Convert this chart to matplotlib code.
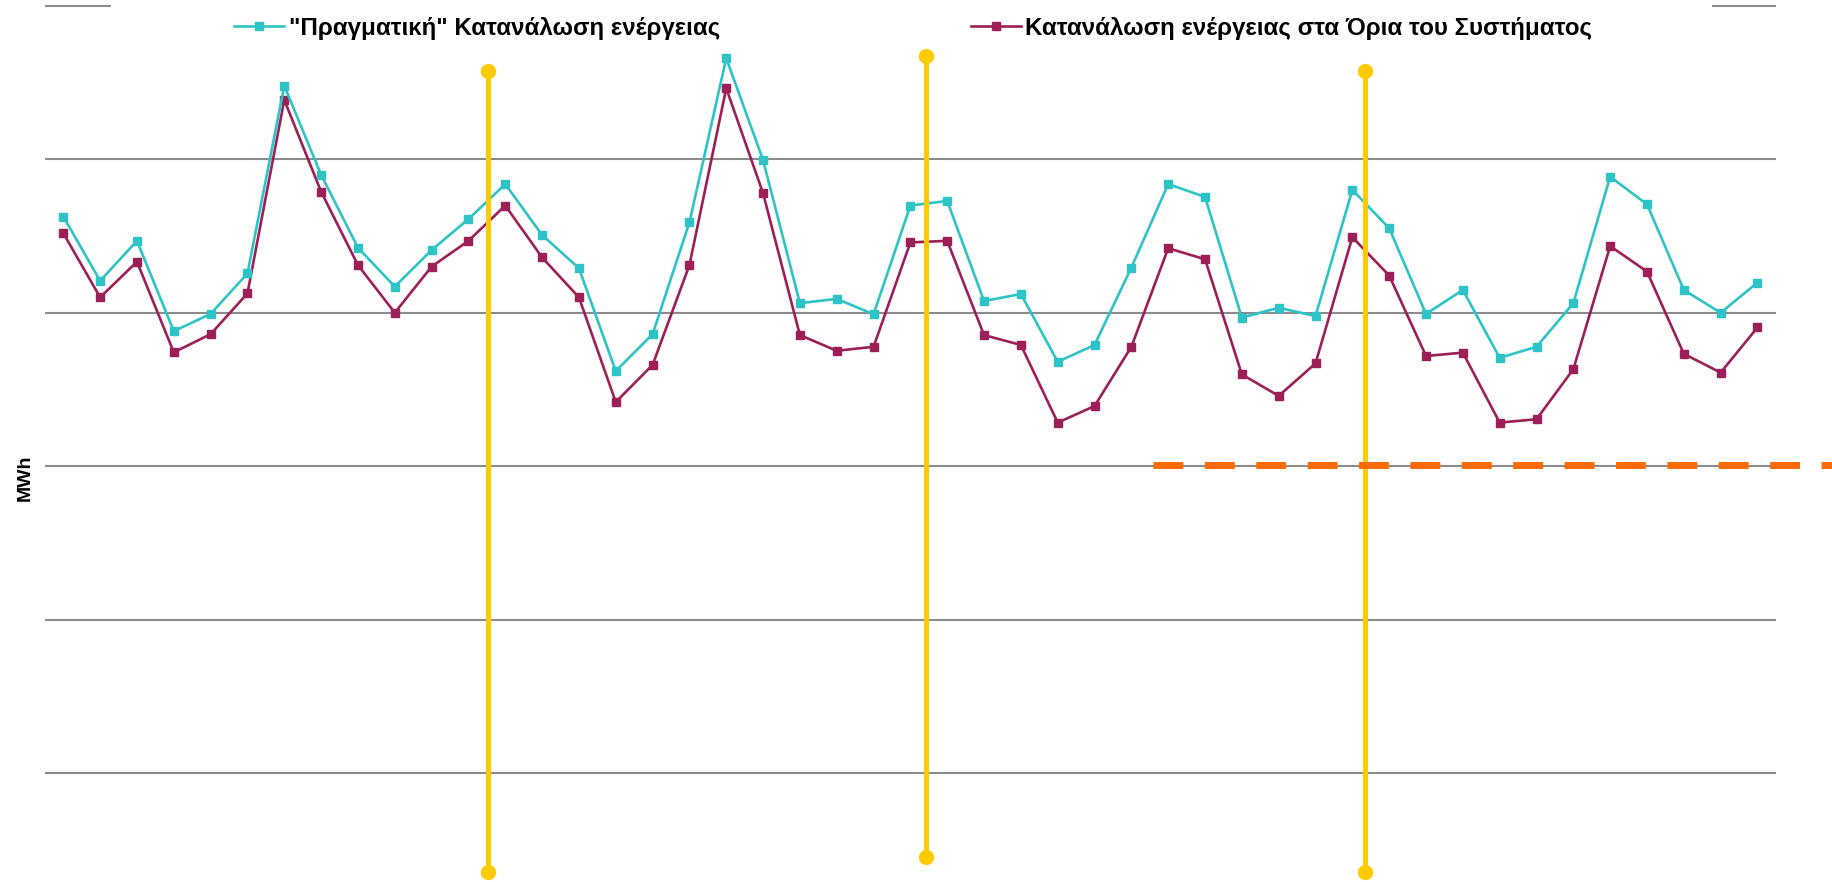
import numpy as np
import matplotlib
matplotlib.use("Agg")
from matplotlib import pyplot as plt
from matplotlib.patches import Rectangle

plt.rcParams['font.family'] = ['Liberation Sans', 'DejaVu Sans']

# monthly energy consumption, million MWh
months = np.arange(47)
real_consumption = [4.813, 4.604, 4.734, 4.440, 4.496, 4.628, 5.239, 4.949, 4.712, 4.585,
                    4.704, 4.805, 4.919, 4.753, 4.645, 4.310, 4.430, 4.794, 5.329, 4.997,
                    4.531, 4.545, 4.495, 4.849, 4.864, 4.538, 4.561, 4.340, 4.395, 4.647,
                    4.919, 4.877, 4.484, 4.516, 4.489, 4.900, 4.775, 4.496, 4.574, 4.353,
                    4.389, 4.531, 4.943, 4.853, 4.574, 4.500, 4.598]
system_consumption = [4.759, 4.550, 4.666, 4.371, 4.430, 4.563, 5.193, 4.894, 4.655, 4.500,
                      4.650, 4.734, 4.849, 4.680, 4.550, 4.209, 4.330, 4.655, 5.231, 4.889,
                      4.427, 4.376, 4.389, 4.729, 4.734, 4.427, 4.395, 4.142, 4.196, 4.389,
                      4.710, 4.674, 4.299, 4.229, 4.335, 4.746, 4.621, 4.359, 4.370, 4.142,
                      4.153, 4.316, 4.717, 4.634, 4.366, 4.305, 4.452]

labels = ['"Πραγματική" Κατανάλωση ενέργειας',
          'Κατανάλωση ενέργειας στα Όρια του Συστήματος']

# year separators and threshold
sep_x = [11.52, 23.43, 35.34]
sep_top = [5.288, 5.337, 5.288]
sep_bottom = [2.679, 2.727, 2.678]
threshold = 4.005
threshold_start = 29.58

cyan = '#2EC4C7'
wine = '#9C1F58'
gold = '#FFCA00'
orange = '#FF6A00'

fig = plt.figure(figsize=(18.32, 8.82), dpi=100)
ax = fig.add_axes([44.9 / 1832, 0, 1731 / 1832, 1])

ax.set_xlim(-0.5, 46.5)
ax.set_ylim(2.6458, 5.5185)
ax.set_yticks(np.arange(3.0, 5.51, 0.5))
ax.set_axisbelow(True)
ax.grid(axis='y', color='#8C8C8C', linewidth=1.5)
ax.tick_params(left=False, bottom=False, labelleft=False, labelbottom=False)
for s in ax.spines.values():
    s.set_visible(False)

# white strip where the legend hides the top gridline
ax.add_patch(Rectangle((0.038, 0.984), 0.925, 0.016, transform=ax.transAxes,
                       facecolor='white', edgecolor='none', zorder=1))

l1, = ax.plot(months, real_consumption, color=cyan, lw=1.9, marker='s', ms=6,
              label=labels[0], zorder=4)
l2, = ax.plot(months, system_consumption, color=wine, lw=1.9, marker='s', ms=6,
              label=labels[1], zorder=3)

for x, top, bot in zip(sep_x, sep_top, sep_bottom):
    ax.plot([x, x], [bot, top], color=gold, lw=3.6, marker='o', ms=10,
            solid_capstyle='butt', clip_on=False, zorder=5)

ax.axhline(threshold, xmin=(threshold_start + 0.5) / 47, xmax=1.04, color=orange,
           lw=5, dashes=(4.3, 3.1), clip_on=False, zorder=6)

# one legend per entry so each sits where it does in the picture
for handle, x0 in [(l1, 234), (l2, 970.5)]:
    fig.legend(handles=[handle], loc='center left', bbox_to_anchor=(x0 / 1832, 1 - 28 / 882),
               frameon=False, handlelength=2.07, handletextpad=0.2,
               borderpad=0, borderaxespad=0, prop={'weight': 'bold', 'size': 17.4})

fig.text(25 / 1832, 1 - 478 / 882, 'MWh', rotation=90, ha='center', va='center',
         fontsize=14, fontweight='bold')

fig.savefig('out.png', dpi=100, facecolor='white')
